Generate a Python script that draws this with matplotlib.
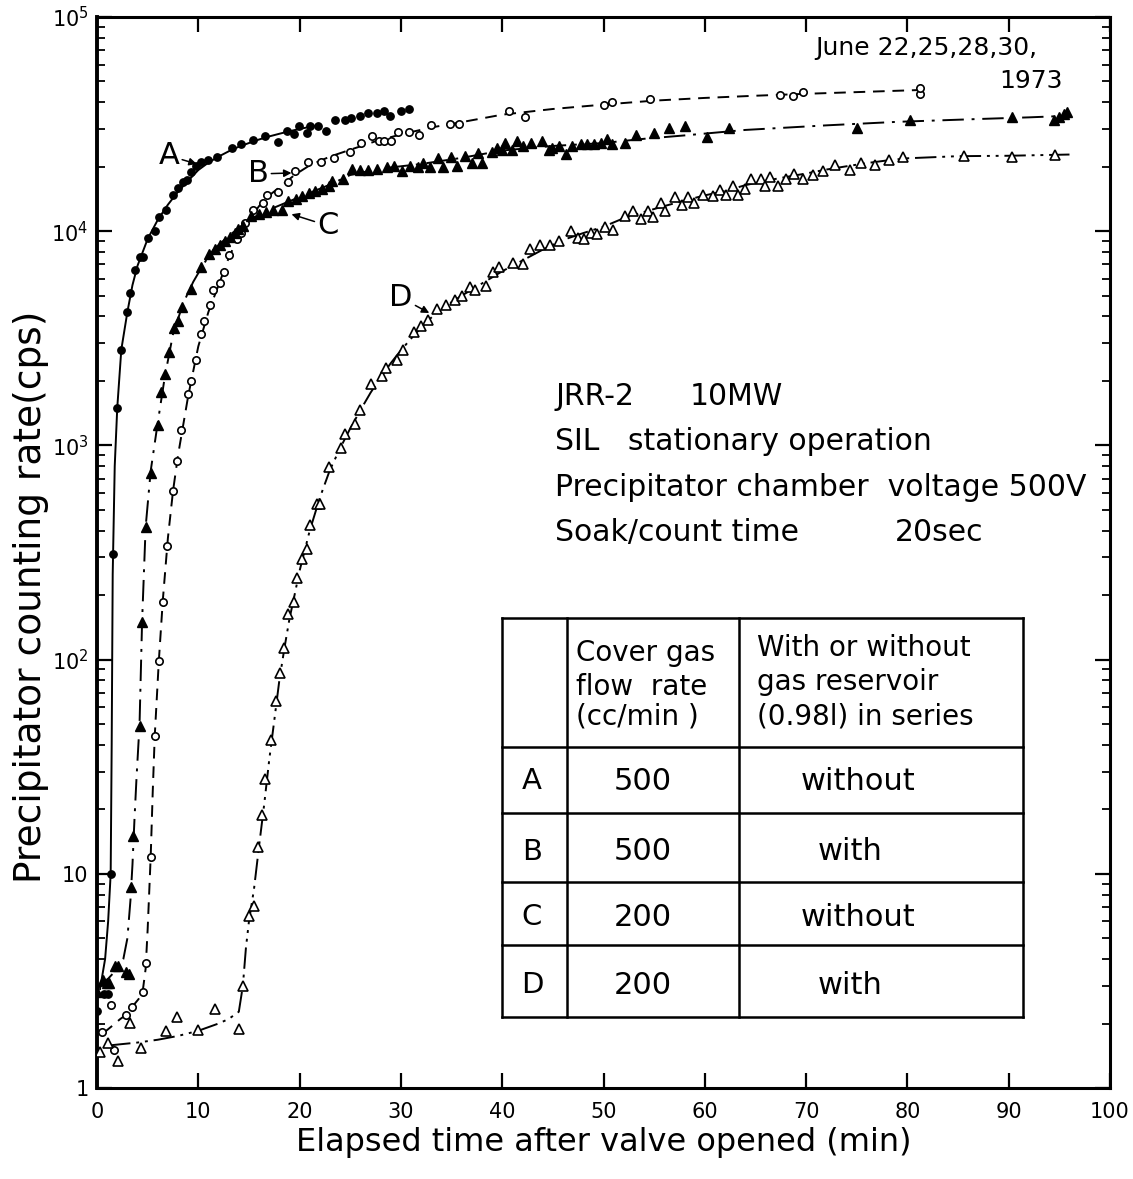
import numpy as np
import matplotlib
matplotlib.use("Agg")
import matplotlib.pyplot as plt
from matplotlib.ticker import LogLocator, NullFormatter, NullLocator

plt.rcParams['font.family'] = ['DejaVu Sans']
plt.rcParams['mathtext.fontset'] = 'dejavusans'

# ---- measured points (elapsed time in min, counting rate in cps) ----
A_t = [0.0, 0.7, 1.1, 1.35, 1.6, 2.0, 2.4, 3.0, 3.3, 3.8, 4.2, 4.5, 5.0, 5.7, 6.1,
       6.8, 7.5, 8.0, 8.5, 8.9, 9.3, 9.8, 10.3, 11.0, 11.8, 13.3, 14.2, 15.4, 16.6,
       17.9, 18.8, 19.4, 19.9, 20.7, 21.0, 21.8, 22.6, 23.5, 24.5, 25.1, 26.0, 26.8,
       27.6, 28.3, 28.9, 30.0, 30.8]
A_y = [2.3, 2.75, 2.75, 10, 310, 1500, 2800, 4200, 5150, 6600, 7600, 7600, 9300,
       10000, 11700, 12500, 14700, 15900, 16900, 17400, 18900, 20100, 21000, 21500,
       22200, 24500, 25600, 26700, 27700, 26100, 29300, 28300, 30900, 28700, 30900,
       30900, 29300, 33000, 33000, 33900, 34500, 35700, 35700, 36300, 34600, 36300,
       37200]

B_t = [0.5, 1.4, 1.7, 2.9, 3.45, 4.5, 4.8, 5.3, 5.7, 6.1, 6.5, 6.9, 7.5, 7.9, 8.3,
       9.0, 9.3, 9.8, 10.3, 10.6, 11.2, 11.5, 12.1, 12.5, 13.0, 13.8, 14.2, 14.6,
       15.4, 16.4, 16.8, 17.9, 18.9, 19.5, 20.8, 22.1, 23.4, 25.0, 26.1, 27.1, 27.8,
       28.3, 29.0, 29.7, 30.8, 31.8, 33.0, 34.8, 35.7, 40.7, 42.3, 50.0, 50.8, 54.6,
       67.4, 68.7, 69.7, 81.2, 81.2]
B_y = [1.83, 2.44, 1.5, 2.2, 2.4, 2.8, 3.85, 12, 44, 98, 185, 340, 615, 850, 1180,
       1730, 1990, 2500, 3300, 3800, 4500, 5300, 5700, 6450, 7770, 9150, 9800, 10900,
       12600, 13500, 14800, 15200, 17000, 19000, 21000, 21000, 22000, 23500, 25800,
       27900, 26500, 26500, 26500, 29000, 29000, 28000, 31400, 31500, 31500, 36500,
       34200, 39000, 40000, 41500, 43200, 42700, 44600, 43900, 46800]

C_t = [0.0, 0.6, 0.95, 1.2, 1.8, 2.1, 2.9, 3.2, 3.4, 3.6, 4.2, 4.45, 4.8, 5.3, 6.0,
       6.3, 6.7, 7.1, 7.6, 8.0, 8.4, 9.3, 10.3, 11.1, 11.6, 12.1, 12.6, 13.1, 13.6,
       13.9, 14.4, 15.2, 16.0, 16.7, 17.4, 18.3, 18.9, 19.6, 20.2, 20.9, 21.5, 22.2,
       22.9, 23.2, 24.3, 25.2, 26.0, 26.8, 27.6, 28.6, 29.3, 30.1, 30.9, 31.7, 32.2,
       32.9, 33.7, 34.2, 34.9, 35.5, 36.3, 37.0, 37.6, 38.0, 39.0, 39.5, 40.0, 40.3,
       41.0, 41.5, 42.1, 42.8, 43.9, 44.6, 44.9, 45.6, 46.3, 46.9, 47.8, 48.4, 49.1,
       49.8, 50.3, 50.8, 52.1, 53.2, 55.0, 56.5, 58.0, 60.2, 62.4, 75.0, 80.3, 90.3,
       94.5, 95.0, 95.5, 95.8]
C_y = [2.8, 3.2, 3.1, 3.1, 3.7, 3.7, 3.47, 3.4, 8.7, 15, 49, 150, 415, 745, 1250,
       1780, 2150, 2740, 3550, 3800, 4450, 5350, 6800, 7800, 8300, 8600, 9000, 9400,
       9800, 10200, 10600, 11800, 12000, 12300, 12500, 12600, 13900, 14100, 14600,
       15100, 15400, 15700, 16300, 17200, 17500, 19500, 19300, 19300, 19500, 20000,
       20200, 19100, 20200, 20000, 20900, 20000, 21900, 20000, 22100, 20200, 22400,
       20900, 23200, 20900, 23400, 24500, 24000, 25700, 24000, 26300, 25100, 25700,
       26300, 24000, 24500, 25100, 22900, 25100, 25400, 25400, 25400, 25700, 26900,
       25400, 25700, 28200, 28800, 30200, 30900, 27500, 30200, 30200, 33200, 34000,
       33100, 34000, 35400, 35900]

D_t = [0.25, 1.1, 2.1, 3.3, 4.3, 6.8, 7.9, 10.0, 11.6, 14.0, 14.4, 15.0, 15.5, 15.9,
       16.3, 16.6, 17.2, 17.7, 18.1, 18.5, 18.9, 19.4, 19.7, 20.2, 20.7, 21.0, 21.7,
       22.0, 22.9, 24.1, 24.5, 25.5, 26.0, 27.0, 28.1, 28.5, 29.6, 30.2, 31.3, 32.0,
       32.7, 33.6, 34.5, 35.3, 36.0, 36.8, 37.3, 38.4, 39.1, 39.7, 41.1, 42.1, 42.7,
       43.7, 44.7, 45.6, 46.8, 47.5, 48.1, 48.8, 49.4, 50.1, 50.9, 52.1, 52.9, 53.7,
       54.4, 54.9, 55.7, 56.1, 57.1, 57.7, 58.3, 58.9, 59.8, 60.8, 61.5, 62.1, 62.8,
       63.3, 64.0, 64.6, 65.5, 65.9, 66.4, 67.2, 68.0, 68.8, 69.7, 70.7, 71.7, 72.9,
       74.3, 75.4, 76.8, 78.2, 79.6, 85.6, 90.3, 94.6]
D_y = [1.48, 1.63, 1.34, 2.02, 1.54, 1.85, 2.14, 1.87, 2.34, 1.88, 3.0, 6.35, 7.1,
       13.3, 18.9, 27.8, 42, 64, 87, 113, 163, 185, 240, 295, 330, 427, 530, 530, 790,
       970, 1130, 1260, 1470, 1930, 2100, 2300, 2500, 2800, 3400, 3590, 3850, 4320,
       4500, 4780, 5000, 5480, 5300, 5560, 6430, 6770, 7110, 7030, 8300, 8600, 8600,
       9000, 10000, 9300, 9200, 9800, 9700, 10500, 10100, 11800, 12400, 11400, 12400,
       11700, 13500, 12400, 14400, 13200, 14400, 13500, 14800, 14600, 15500, 14800,
       16300, 14800, 15700, 17500, 17500, 16200, 18000, 16200, 17600, 18500, 17500,
       18300, 19100, 20400, 19300, 20900, 20300, 21400, 22100, 22500, 22300, 22700]

# ---- hand-drawn trend curves through each series ----
A_curve_t = [0.3, 0.8, 1.1, 1.35, 1.45, 1.55, 1.75, 2.0, 2.4, 3.0, 3.5, 4.0, 5.0,
             6.0, 7.0, 8.0, 9.0, 10.0, 11.0, 12.0, 13.0, 14.0, 15.0, 16.0, 17.0,
             18.0, 19.0, 20.0, 21.0, 22.0]
A_curve_y = [2.9, 4.0, 6.0, 10, 40, 250, 800, 1500, 2800, 4200, 5600, 6900, 9200,
             11300, 13300, 15300, 17200, 19300, 20900, 22300, 23600, 24800, 25800,
             26800, 27700, 28500, 29300, 30000, 30700, 31300]

B_curve_t = [0.6, 1.5, 2.3, 2.9, 3.5, 4.1, 4.5, 4.8, 5.0, 5.3, 5.5, 5.7, 6.1, 6.5,
             7.0, 7.5, 8.0, 9.0, 10.0, 11.0, 12.0, 13.0, 14.0, 15.0, 16.0, 17.0,
             18.0, 19.5, 21.0, 23.0, 25.0, 27.5, 30.0, 33.0, 36.0, 40.0, 45.0, 50.0,
             55.0, 60.0, 65.0, 70.0, 75.0, 82.3]
B_curve_y = [1.8, 1.95, 2.1, 2.2, 2.4, 2.6, 2.8, 3.6, 5.5, 12, 24, 44, 98, 190, 370,
             610, 900, 1700, 2900, 4200, 5600, 7500, 9500, 11300, 13100, 14700,
             16000, 18300, 20300, 22300, 24000, 26300, 28300, 30500, 32300, 35000,
             37200, 39000, 40700, 41900, 42900, 43800, 44600, 45800]

C_curve_t = [0.0, 1.0, 2.0, 2.6, 3.0, 3.3, 3.5, 3.7, 3.9, 4.2, 4.45, 4.8, 5.3, 6.0,
             6.7, 7.5, 8.5, 9.5, 10.5, 11.5, 13.0, 15.0, 17.0, 19.0, 21.0, 23.0,
             25.0, 28.0, 32.0, 36.0, 40.0, 45.0, 50.0, 54.0, 58.0, 64.0, 72.0, 79.0,
             87.0, 92.0, 96.0]
C_curve_y = [2.9, 3.2, 3.6, 4.0, 5.0, 7.5, 11, 18, 28, 50, 150, 415, 760, 1280, 2100,
             3300, 4600, 5800, 7000, 8200, 9500, 11300, 12600, 13800, 15100, 16500,
             18300, 19600, 20600, 22000, 23800, 25000, 25800, 27000, 28000, 29700,
             31200, 32400, 33400, 34000, 34600]

D_curve_t = [1.2, 2.3, 4.0, 6.0, 8.0, 10.0, 12.0, 13.0, 14.0, 14.4, 14.7, 15.0, 15.5,
             16.0, 16.5, 17.0, 17.5, 18.0, 18.5, 19.0, 19.5, 20.0, 21.0, 22.0, 23.0,
             24.0, 25.0, 26.0, 27.0, 28.0, 29.0, 30.0, 31.0, 32.0, 33.0, 34.0, 36.0,
             38.0, 40.0, 42.0, 44.0, 46.0, 48.0, 50.0, 52.0, 54.0, 56.0, 58.0, 60.0,
             62.0, 64.0, 66.0, 68.0, 70.0, 72.0, 74.0, 76.0, 78.0, 80.0, 85.0, 90.0,
             96.0]
D_curve_y = [1.58, 1.6, 1.63, 1.68, 1.75, 1.85, 2.0, 2.1, 2.27, 3.0, 4.5, 6.0, 8.5,
             13.5, 21, 34, 52, 80, 113, 155, 200, 260, 400, 570, 770, 970, 1200, 1460,
             1760, 2080, 2420, 2780, 3150, 3550, 3950, 4350, 5000, 5700, 6500, 7300,
             8200, 9100, 9800, 10500, 11500, 12300, 13100, 13900, 14700, 15400, 16400,
             17200, 17900, 18600, 19400, 20100, 20800, 21400, 21900, 22400, 22500,
             22800]

# ---- axis ticks ----
x_ticks = list(range(0, 101, 10))
x_tick_labels = [str(v) for v in x_ticks]
y_ticks = [1, 10, 100, 1e3, 1e4, 1e5]
y_tick_labels = ['1', '10', r'$10^2$', r'$10^3$', r'$10^4$', r'$10^5$']

# ---- condition table ----
table_header = ['', 'Cover gas\nflow  rate\n(cc/min )',
                'With or without\ngas reservoir\n(0.98l) in series']
run_names = ['A', 'B', 'C', 'D']
flow_rates = ['500', '500', '200', '200']
reservoir = ['without', 'with', 'without', 'with']

W, H = 1133, 1179
fig = plt.figure(figsize=(W / 100, H / 100), dpi=100)
x0, x1, y0, y1 = 97, 1110, 1088, 17
ax = fig.add_axes([x0 / W, 1 - y0 / H, (x1 - x0) / W, (y0 - y1) / H])


def axfrac(px, py):
    return (px - x0) / (x1 - x0), (y0 - py) / (y0 - y1)


ax.set_yscale('log')
ax.set_xlim(0, 100)
ax.set_ylim(1, 1e5)

k = 'black'
ax.plot(A_curve_t, A_curve_y, '-', color=k, lw=1.4, zorder=2)
ax.plot(B_curve_t, B_curve_y, color=k, lw=1.4, linestyle=(0, (6, 4)), zorder=2)
ax.plot(C_curve_t, C_curve_y, color=k, lw=1.4, linestyle=(0, (11, 4, 1.5, 4)), zorder=2)
ax.plot(D_curve_t, D_curve_y, color=k, lw=1.4,
        linestyle=(0, (11, 3, 1.5, 3, 1.5, 3)), zorder=2)

ax.plot(A_t, A_y, 'o', ms=5.3, mfc=k, mec=k, ls='none', zorder=3)
ax.plot(B_t, B_y, 'o', ms=5.3, mfc='white', mec=k, mew=1.2, ls='none', zorder=3)
ax.plot(C_t, C_y, '^', ms=7.5, mfc=k, mec=k, ls='none', zorder=3)
ax.plot(D_t, D_y, '^', ms=7.5, mfc='white', mec=k, mew=1.2, ls='none', zorder=3)

ax.set_xticks(x_ticks)
ax.set_xticklabels(x_tick_labels)
ax.xaxis.set_minor_locator(NullLocator())
ax.set_yticks(y_ticks)
ax.set_yticklabels(y_tick_labels)
ax.yaxis.set_minor_locator(LogLocator(base=10, subs=np.arange(2, 10), numticks=20))
ax.yaxis.set_minor_formatter(NullFormatter())
ax.tick_params(which='both', direction='in', top=True, right=True, colors=k)
ax.tick_params(which='major', length=11, width=1.6, labelsize=15)
ax.tick_params(axis='x', which='major', pad=10)
ax.tick_params(axis='y', which='major', pad=6)
ax.tick_params(which='minor', length=6, width=1.3)
for s in ax.spines.values():
    s.set_linewidth(2.2)
ax.spines['left'].set_linewidth(2.8)

ax.set_xlabel('Elapsed time after valve opened (min)', fontsize=23, va='center')
ax.xaxis.set_label_coords(0.5, axfrac(0, 1143)[1])
ax.set_ylabel('Precipitator counting rate(cps)', fontsize=27, va='center')
ax.yaxis.set_label_coords(axfrac(31, 0)[0], axfrac(0, 597)[1])

# curve labels with pointer arrows
arrow = dict(arrowstyle='-|>', lw=1.1, color=k, mutation_scale=11,
             shrinkA=0, shrinkB=0)
ax.annotate('A', xy=(9.85, 20600), xytext=(7.1, 22500), fontsize=22,
            ha='center', va='center', arrowprops=arrow)
ax.annotate('B', xy=(19.2, 18700), xytext=(15.9, 18500), fontsize=22,
            ha='center', va='center', arrowprops=arrow)
ax.annotate('C', xy=(19.2, 12000), xytext=(22.8, 10600), fontsize=22,
            ha='center', va='center', arrowprops=arrow)
ax.annotate('D', xy=(32.8, 4150), xytext=(30.0, 4900), fontsize=22,
            ha='center', va='center', arrowprops=arrow)

# date note
tr = ax.transAxes
ax.text(*axfrac(1037, 55), 'June 22,25,28,30,', transform=tr, fontsize=18,
        ha='right', va='baseline')
ax.text(*axfrac(1063, 88), '1973', transform=tr, fontsize=18,
        ha='right', va='baseline')

# operating conditions
fs_note = 21.5
ax.text(*axfrac(555, 405), 'JRR-2', transform=tr, fontsize=fs_note, va='baseline')
ax.text(*axfrac(690, 405), '10MW', transform=tr, fontsize=fs_note, va='baseline')
ax.text(*axfrac(555, 450), 'SIL   stationary operation', transform=tr,
        fontsize=fs_note, va='baseline')
ax.text(*axfrac(555, 496), 'Precipitator chamber  voltage 500V', transform=tr,
        fontsize=fs_note, va='baseline')
ax.text(*axfrac(555, 541), 'Soak/count time', transform=tr, fontsize=fs_note,
        va='baseline')
ax.text(*axfrac(895, 541), '20sec', transform=tr, fontsize=fs_note, va='baseline')

# table frame
col_x = [502, 567, 739, 1023]
row_y = [618, 747, 813, 882, 945, 1017]
for px in col_x:
    xa, ya0 = axfrac(px, row_y[0])
    _, ya1 = axfrac(px, row_y[-1])
    ax.plot([xa, xa], [ya0, ya1], color=k, lw=1.8, transform=tr, clip_on=False)
for py in row_y:
    xa0, ya = axfrac(col_x[0], py)
    xa1, _ = axfrac(col_x[-1], py)
    ax.plot([xa0, xa1], [ya, ya], color=k, lw=1.8, transform=tr, clip_on=False)

# table header
for line, base in zip(table_header[1].split('\n'), [661, 695, 725]):
    ax.text(*axfrac(576, base), line, transform=tr, fontsize=20, va='baseline')
for line, base in zip(table_header[2].split('\n'), [656, 690, 724]):
    ax.text(*axfrac(757, base), line, transform=tr, fontsize=20, va='baseline')

# table rows
row_centers = [781, 852, 917, 985]
for name, rate, res, cy in zip(run_names, flow_rates, reservoir, row_centers):
    ax.text(*axfrac(532, cy), name, transform=tr, fontsize=21, ha='center', va='center')
    ax.text(*axfrac(643, cy), rate, transform=tr, fontsize=22, ha='center', va='center')
    ax.text(*axfrac(858 if res == 'without' else 850, cy), res, transform=tr,
            fontsize=22, ha='center', va='center')

fig.savefig('out.png', dpi=100, facecolor='white')
